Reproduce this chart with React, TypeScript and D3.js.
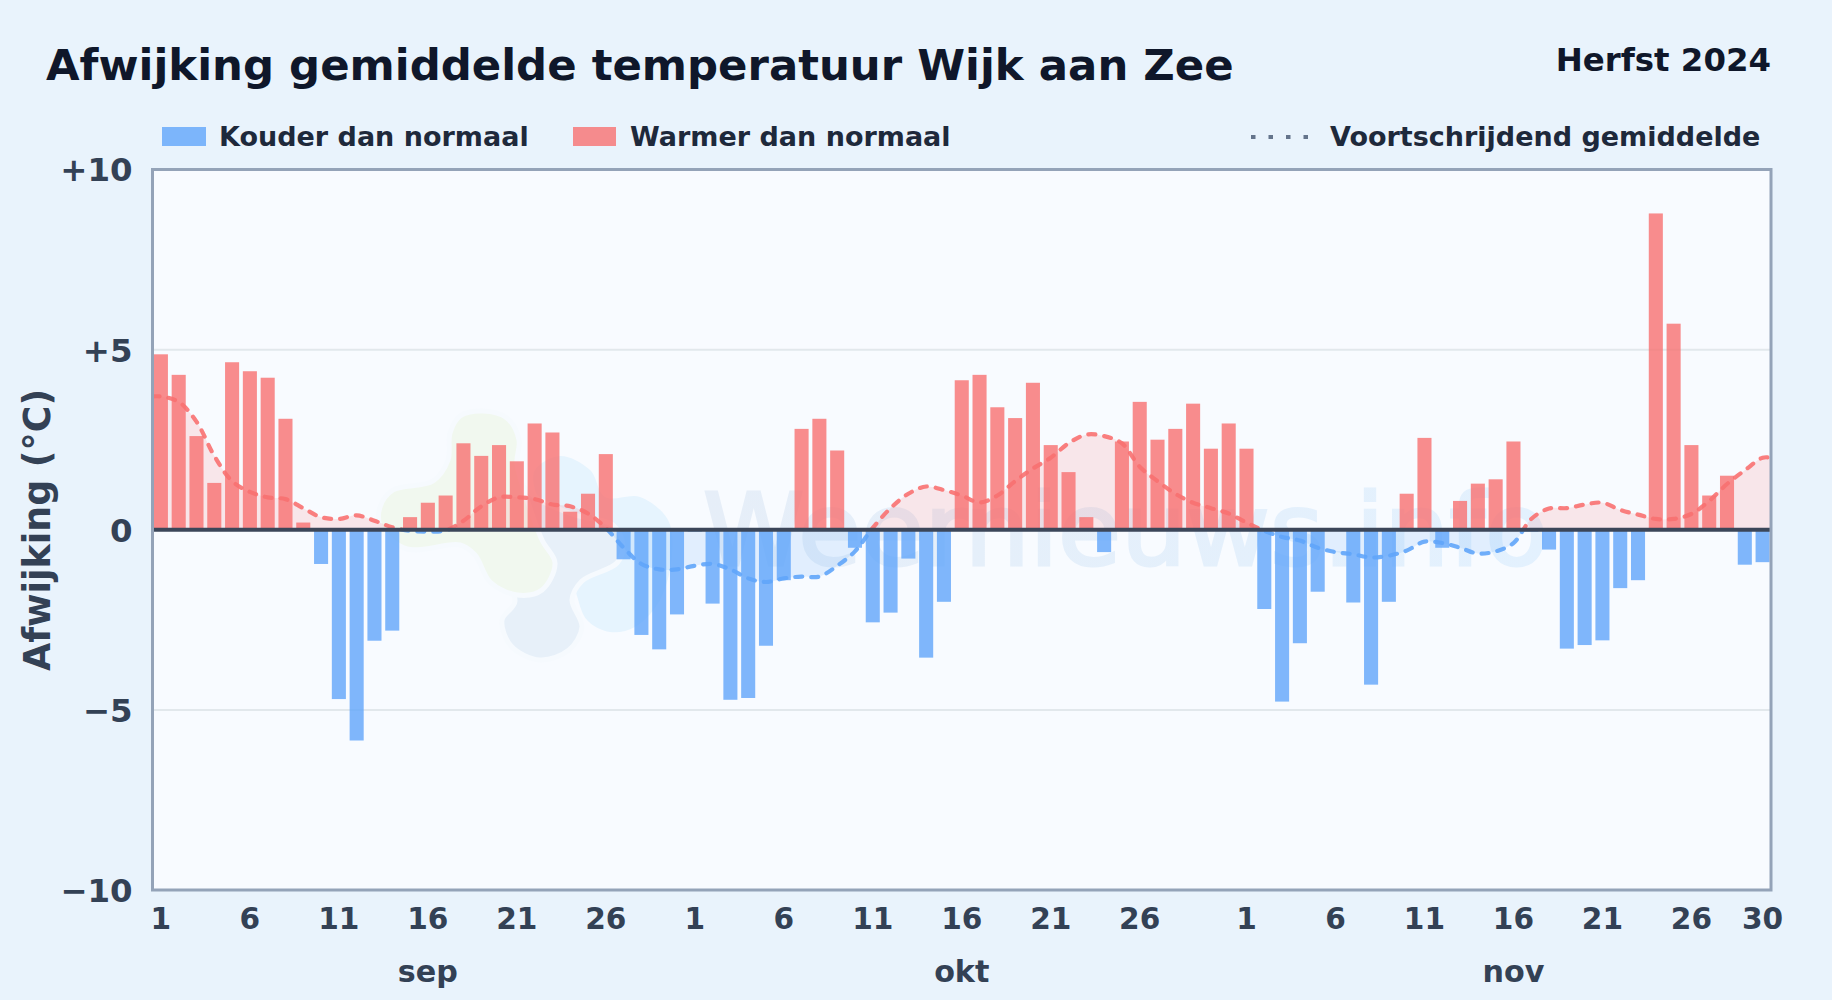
import React, { useRef, useEffect } from "react";
import * as d3 from "d3";

const months = ["sep", "okt", "nov"];
const monthLengths = [30, 31, 30];
const monthLabelDay = 16;

// afwijking per dag (°C), 1 sep t/m 30 nov
const deviations = [
  4.87, 4.3, 2.6, 1.3, 4.65, 4.4, 4.22, 3.08, 0.2, -0.95,
  -4.7, -5.85, -3.08, -2.8, 0.35, 0.75, 0.95, 2.4, 2.05, 2.35,
  1.9, 2.95, 2.7, 0.5, 1.0, 2.1, -0.82, -2.92, -3.32, -2.35,
  -0.05, -2.05, -4.72, -4.67, -3.22, -1.4, 2.8, 3.08, 2.2, -0.5,
  -2.57, -2.3, -0.8, -3.55, -2.0, 4.15, 4.3, 3.4, 3.1, 4.08,
  2.35, 1.6, 0.35, -0.62, 2.45, 3.55, 2.5, 2.8, 3.5, 2.25, 2.95,
  2.25, -2.2, -4.77, -3.15, -1.72, 0, -2.02, -4.3, -2.0, 1.0,
  2.55, -0.5, 0.8, 1.28, 1.4, 2.45, -0.05, -0.55, -3.3, -3.2,
  -3.07, -1.62, -1.4, 8.78, 5.72, 2.35, 0.95, 1.5, -0.97, -0.9,
];

const movingAverage = [
  3.7, 3.55, 3.0, 2.05, 1.35, 1.05, 0.9, 0.85, 0.6, 0.35,
  0.3, 0.4, 0.25, 0.07, -0.03, -0.05, -0.02, 0.25, 0.65, 0.9,
  0.9, 0.85, 0.7, 0.65, 0.45, 0.05, -0.5, -0.95, -1.1, -1.1,
  -1.0, -0.95, -1.1, -1.35, -1.45, -1.35, -1.3, -1.3, -1.0, -0.6,
  0.05, 0.6, 1.0, 1.2, 1.1, 0.95, 0.76, 0.95, 1.35, 1.7,
  2.0, 2.4, 2.64, 2.6, 2.4, 1.75, 1.35, 1.0, 0.75, 0.6, 0.45,
  0.2, -0.03, -0.2, -0.3, -0.5, -0.62, -0.68, -0.77, -0.72, -0.58,
  -0.33, -0.37, -0.5, -0.66, -0.6, -0.37, 0.3, 0.59, 0.6, 0.7,
  0.75, 0.55, 0.42, 0.3, 0.3, 0.44, 0.8, 1.27, 1.65, 2.0,
];

const yTicks = [-10, -5, 0, 5, 10];
const gridValues = [-5, 5];

// watermerk-vlekken, in pixels van de afbeelding
const blobGreen: [number, number][] = [
  [448, 460], [450, 433], [460, 416], [483, 411], [507, 418], [519, 440], [517, 463], [525, 493], [542, 540],
  [555, 563], [542, 590], [517, 595], [490, 582], [475, 555], [460, 545], [407, 549], [381, 528], [380, 507],
  [393, 490], [433, 481],
];
const blobSlate: [number, number][] = [
  [465, 490], [480, 476], [507, 475], [540, 500], [575, 515], [613, 525], [623, 545], [617, 563], [582, 581],
  [572, 600], [582, 627], [569, 650], [540, 660], [511, 646], [502, 620], [515, 601], [490, 560], [465, 520],
];
const blobBlue: [number, number][] = [
  [535, 470], [560, 456], [590, 470], [605, 497], [640, 497], [668, 520], [672, 555], [660, 600], [635, 627],
  [610, 632], [587, 620], [575, 590], [550, 520], [535, 490],
];

const App: React.FC = () => {
  const svgRef = useRef<SVGSVGElement | null>(null);

  useEffect(() => {
    if (!svgRef.current) return;
    const svg = d3.select(svgRef.current);
    svg.selectAll("*").remove();

    const left = 152.5;
    const right = 1771;
    const top = 169.5;
    const bottom = 890;
    const font = '"DejaVu Sans", sans-serif';

    const days = months.flatMap((m, mi) =>
      d3.range(1, monthLengths[mi] + 1).map((d) => ({ month: m, day: d, key: `${m}-${d}` }))
    );
    const x = d3.scaleBand<string>().domain(days.map((d) => d.key)).range([left - 0.5, right + 0.5]).paddingInner(0.21).paddingOuter(0.105);
    const center = (i: number) => x(days[i].key)! + x.bandwidth() / 2;
    const y = d3.scaleLinear().domain([-10, 10]).range([bottom, top]);

    svg.append("rect").attr("width", 1832).attr("height", 1000).attr("fill", "#e9f3fc");
    svg.append("rect").attr("x", left).attr("y", top).attr("width", right - left).attr("height", bottom - top).attr("fill", "#f8fbff");

    const defs = svg.append("defs");
    const grad = defs.append("linearGradient").attr("id", "wm").attr("x1", 0).attr("x2", 1).attr("y1", 0).attr("y2", 0);
    grad.append("stop").attr("offset", "0%").attr("stop-color", "#e6eef8");
    grad.append("stop").attr("offset", "100%").attr("stop-color", "#e3f1fe");

    // watermerk
    const wm = svg.append("g").attr("class", "watermark");
    const blob = d3.line().curve(d3.curveCatmullRomClosed.alpha(0.5));
    const halo = "#f6fafe";
    wm.append("path").attr("d", blob(blobBlue)).attr("fill", "#e6f4fe");
    wm.append("path").attr("d", blob(blobSlate)).attr("fill", "#e7f0f9").attr("stroke", halo).attr("stroke-width", 5);
    wm.append("path").attr("d", blob(blobGreen)).attr("fill", "#f1f8ef").attr("stroke", halo).attr("stroke-width", 5);
    wm.append("text")
      .attr("x", 703)
      .attr("y", 565)
      .attr("font-family", font)
      .attr("font-size", 100)
      .attr("textLength", 845)
      .attr("lengthAdjust", "spacingAndGlyphs")
      .attr("fill", "url(#wm)")
      .attr("stroke", "url(#wm)")
      .attr("stroke-width", 3)
      .text("Weernieuws.info");

    // raster
    svg.append("g")
      .selectAll("line")
      .data(gridValues)
      .join("line")
      .attr("x1", left)
      .attr("x2", right)
      .attr("y1", (d) => y(d))
      .attr("y2", (d) => y(d))
      .attr("stroke", "#e2e8ec")
      .attr("stroke-width", 2);

    // voortschrijdend gemiddelde, vlak en lijn knippen op de nullijn
    defs.append("clipPath").attr("id", "above").append("rect").attr("x", left).attr("y", top).attr("width", right - left).attr("height", y(0) - top);
    defs.append("clipPath").attr("id", "below").append("rect").attr("x", left).attr("y", y(0)).attr("width", right - left).attr("height", bottom - y(0));

    const maPoints: [number, number][] = [
      [left, y(movingAverage[0])],
      ...movingAverage.map((v, i) => [center(i), y(v)] as [number, number]),
      [right, y(movingAverage[movingAverage.length - 1])],
    ];
    const maLine = d3.line().curve(d3.curveCatmullRom.alpha(0.5));
    const maArea = d3.area<[number, number]>()
      .x((d) => d[0])
      .y0(y(0))
      .y1((d) => d[1])
      .curve(d3.curveCatmullRom.alpha(0.5));

    [
      { clip: "above", color: "#f87171" },
      { clip: "below", color: "#60a5fa" },
    ].forEach(({ clip, color }) => {
      const g = svg.append("g").attr("clip-path", `url(#${clip})`);
      g.append("path").attr("d", maArea(maPoints)).attr("fill", color).attr("opacity", 0.15);
      g.append("path")
        .attr("d", maLine(maPoints))
        .attr("fill", "none")
        .attr("stroke", color)
        .attr("stroke-width", 4.2)
        .attr("stroke-linecap", "round")
        .attr("stroke-dasharray", "7 9")
        .attr("opacity", 0.9);
    });

    // staven
    svg.append("g")
      .selectAll("rect")
      .data(deviations)
      .join("rect")
      .attr("x", (_, i) => x(days[i].key)!)
      .attr("width", x.bandwidth())
      .attr("y", (d) => (d >= 0 ? y(d) : y(0)))
      .attr("height", (d) => Math.abs(y(d) - y(0)))
      .attr("fill", (d) => (d >= 0 ? "#f87171" : "#60a5fa"))
      .attr("opacity", 0.8);

    // nullijn en kader
    svg.append("line").attr("x1", left).attr("x2", right).attr("y1", y(0)).attr("y2", y(0)).attr("stroke", "#3b4659").attr("stroke-width", 4);
    svg.append("rect").attr("x", left).attr("y", top).attr("width", right - left).attr("height", bottom - top).attr("fill", "none").attr("stroke", "#94a3b8").attr("stroke-width", 3);

    // assen
    const yAxis = d3.axisLeft(y)
      .tickValues(yTicks)
      .tickSize(0)
      .tickPadding(20)
      .tickFormat((d) => {
        const v = +d;
        return v > 0 ? `+${v}` : v < 0 ? `\u2212${-v}` : "0";
      });
    const gy = svg.append("g").attr("transform", `translate(${left},1)`).call(yAxis);
    gy.select(".domain").remove();
    gy.selectAll("text").attr("font-family", font).attr("font-size", 32.4).attr("font-weight", 700).attr("fill", "#334155");

    const tickKeys = days.filter((d, i) => (d.day % 5 === 1 && d.day <= 26) || i === days.length - 1).map((d) => d.key);
    const xAxis = d3.axisBottom(x)
      .tickValues(tickKeys)
      .tickSize(0)
      .tickPadding(18)
      .tickFormat((k) => k.split("-")[1]);
    const gx = svg.append("g").attr("transform", `translate(0,${bottom})`).call(xAxis);
    gx.select(".domain").remove();
    gx.selectAll("text").attr("font-family", font).attr("font-size", 29.6).attr("font-weight", 700).attr("fill", "#334155");

    svg.append("g")
      .selectAll("text")
      .data(months)
      .join("text")
      .attr("x", (m) => center(days.findIndex((d) => d.month === m && d.day === monthLabelDay)))
      .attr("y", 982)
      .attr("text-anchor", "middle")
      .attr("font-family", font)
      .attr("font-size", 30.2)
      .attr("font-weight", 700)
      .attr("fill", "#334155")
      .text((m) => m);

    svg.append("text")
      .attr("transform", `translate(50,530) rotate(-90)`)
      .attr("text-anchor", "middle")
      .attr("font-family", font)
      .attr("font-size", 36.4)
      .attr("font-weight", 700)
      .attr("fill", "#334155")
      .text("Afwijking (°C)");

    // titels
    svg.append("text").attr("x", 46).attr("y", 80).attr("font-family", font).attr("font-size", 43.4).attr("font-weight", 700).attr("fill", "#0f172a").text("Afwijking gemiddelde temperatuur Wijk aan Zee");
    svg.append("text").attr("x", 1771).attr("y", 70.5).attr("text-anchor", "end").attr("font-family", font).attr("font-size", 32.4).attr("font-weight", 700).attr("fill", "#0f172a").text("Herfst 2024");

    // legenda
    const legendText = (tx: number, t: string) =>
      svg.append("text").attr("x", tx).attr("y", 146).attr("font-family", font).attr("font-size", 27).attr("font-weight", 700).attr("fill", "#1e293b").text(t);
    svg.append("rect").attr("x", 162).attr("y", 127).attr("width", 44).attr("height", 19).attr("fill", "#60a5fa").attr("opacity", 0.8);
    legendText(219, "Kouder dan normaal");
    svg.append("rect").attr("x", 573).attr("y", 127).attr("width", 43).attr("height", 19).attr("fill", "#f87171").attr("opacity", 0.8);
    legendText(630, "Warmer dan normaal");
    svg.append("line").attr("x1", 1251).attr("x2", 1308).attr("y1", 137).attr("y2", 137).attr("stroke", "#64748b").attr("stroke-width", 4).attr("stroke-dasharray", "4.5 13");
    legendText(1330, "Voortschrijdend gemiddelde");
  }, []);

  return (
    <div style={{ position: "absolute", left: 0, top: 0 }}>
      <svg ref={svgRef} width={1832} height={1000} style={{ display: "block" }} />
    </div>
  );
};

export default App;
